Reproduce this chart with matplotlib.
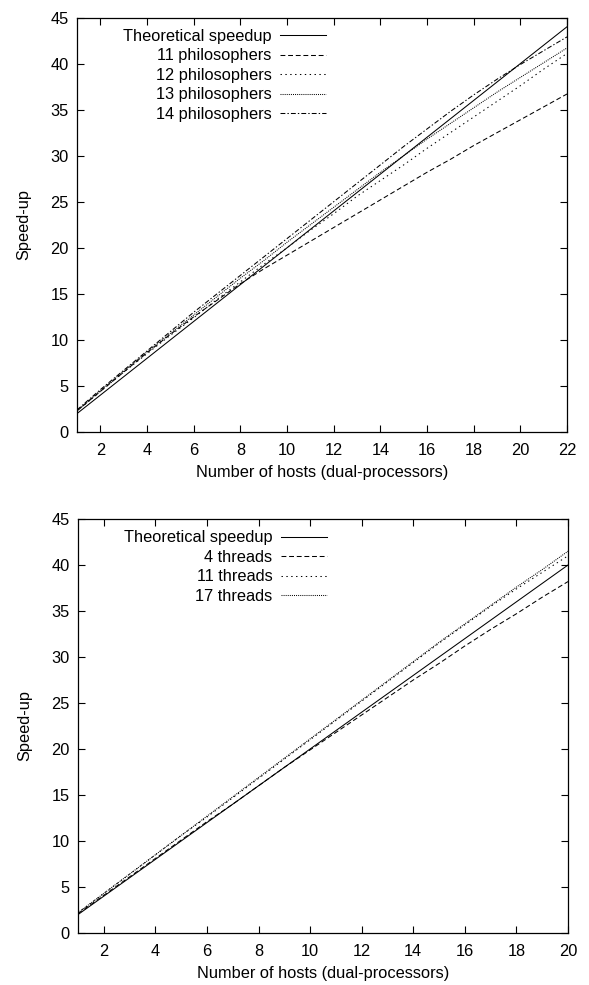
import matplotlib
matplotlib.use('Agg')
import matplotlib.pyplot as plt

plt.rcParams['font.family'] = ['Liberation Sans', 'DejaVu Sans']
plt.rcParams['font.size'] = 11.8
plt.rcParams['lines.scale_dashes'] = False

# top chart: philosophers
hosts_top = list(range(1, 23))
theo_top = [2, 4, 6, 8, 10, 12, 14, 16, 18, 20, 22, 24, 26, 28, 30, 32, 34, 36, 38, 40, 42, 44]
phil11 = [2.3, 4.4, 6.5, 8.6, 10.6, 12.5, 14.3, 16.1, 17.7, 19.2, 20.7, 22.2, 23.7, 25.2, 26.7, 28.2, 29.6, 31.1, 32.5, 33.9, 35.3, 36.7]
phil12 = [2.3, 4.4, 6.5, 8.5, 10.5, 12.4, 14.4, 16.3, 18.2, 20.0, 21.9, 23.7, 25.6, 27.3, 29.0, 30.8, 32.5, 34.2, 35.9, 37.6, 39.4, 41.1]
phil13 = [2.3, 4.5, 6.6, 8.7, 10.7, 12.7, 14.7, 16.7, 18.6, 20.6, 22.5, 24.4, 26.3, 28.2, 30.0, 31.8, 33.5, 35.2, 36.9, 38.5, 40.1, 41.7]
phil14 = [2.4, 4.6, 6.7, 8.8, 10.9, 13.0, 15.0, 17.0, 19.0, 21.0, 23.0, 25.0, 27.0, 29.0, 31.0, 32.9, 34.8, 36.6, 38.3, 39.9, 41.4, 42.9]

# bottom chart: threads
hosts_bot = list(range(1, 21))
theo_bot = [2, 4, 6, 8, 10, 12, 14, 16, 18, 20, 22, 24, 26, 28, 30, 32, 34, 36, 38, 40]
thr4 = [2.1, 4.1, 6.1, 8.1, 10.1, 12.1, 14.0, 16.0, 18.0, 19.9, 21.8, 23.7, 25.6, 27.5, 29.3, 31.2, 33.0, 34.7, 36.5, 38.2]
thr11 = [2.2, 4.3, 6.4, 8.5, 10.6, 12.6, 14.7, 16.8, 18.9, 21.0, 23.1, 25.2, 27.3, 29.4, 31.5, 33.5, 35.5, 37.4, 39.2, 41.0]
thr17 = [2.2, 4.3, 6.4, 8.5, 10.6, 12.7, 14.8, 16.9, 19.0, 21.1, 23.2, 25.3, 27.4, 29.5, 31.6, 33.6, 35.6, 37.6, 39.5, 41.5]

styles = {
    'solid': '-',
    'dash': (0, (3.5, 2.0)),
    'dot': (0, (1.0, 2.5)),
    'fine': (0, (0.7, 0.8)),
    'dashdot': (0, (3.5, 1.5, 1.0, 1.5)),
}
lw = 0.75

fig = plt.figure(figsize=(5.89, 9.85), dpi=100)
ax1 = fig.add_axes([0.1307, 0.5614, 0.832, 0.4208])
ax2 = fig.add_axes([0.1324, 0.0528, 0.832, 0.4203])

ax1.plot(hosts_top, theo_top, color='black', lw=lw, ls=styles['solid'], label='Theoretical speedup')
ax1.plot(hosts_top, phil11, color='black', lw=lw, ls=styles['dash'], label='11 philosophers')
ax1.plot(hosts_top, phil12, color='black', lw=lw, ls=styles['dot'], label='12 philosophers')
ax1.plot(hosts_top, phil13, color='black', lw=lw, ls=styles['fine'], label='13 philosophers')
ax1.plot(hosts_top, phil14, color='black', lw=lw, ls=styles['dashdot'], label='14 philosophers')
ax1.set_xlim(1, 22)
ax1.set_xticks(range(2, 23, 2))

ax2.plot(hosts_bot, theo_bot, color='black', lw=lw, ls=styles['solid'], label='Theoretical speedup')
ax2.plot(hosts_bot, thr4, color='black', lw=lw, ls=styles['dash'], label='4 threads')
ax2.plot(hosts_bot, thr11, color='black', lw=lw, ls=styles['dot'], label='11 threads')
ax2.plot(hosts_bot, thr17, color='black', lw=lw, ls=styles['fine'], label='17 threads')
ax2.set_xlim(1, 20)
ax2.set_xticks(range(2, 21, 2))

for ax in (ax1, ax2):
    ax.set_ylim(0, 45)
    ax.set_yticks(range(0, 46, 5))
    ax.set_xlabel('Number of hosts (dual-processors)', labelpad=5)
    ax.set_ylabel('Speed-up', labelpad=14)
    ax.tick_params(direction='in', top=True, right=True, length=5, width=0.8, pad=8)
    ax.tick_params(axis='y', pad=6)
    for s in ax.spines.values():
        s.set_linewidth(0.9)
    ax.legend(loc='upper left', bbox_to_anchor=(0.07, 1.0), markerfirst=False,
              frameon=False, handlelength=2.8, handletextpad=0.55,
              labelspacing=0.27, borderaxespad=0.3)

fig.savefig('out.png', dpi=100)
